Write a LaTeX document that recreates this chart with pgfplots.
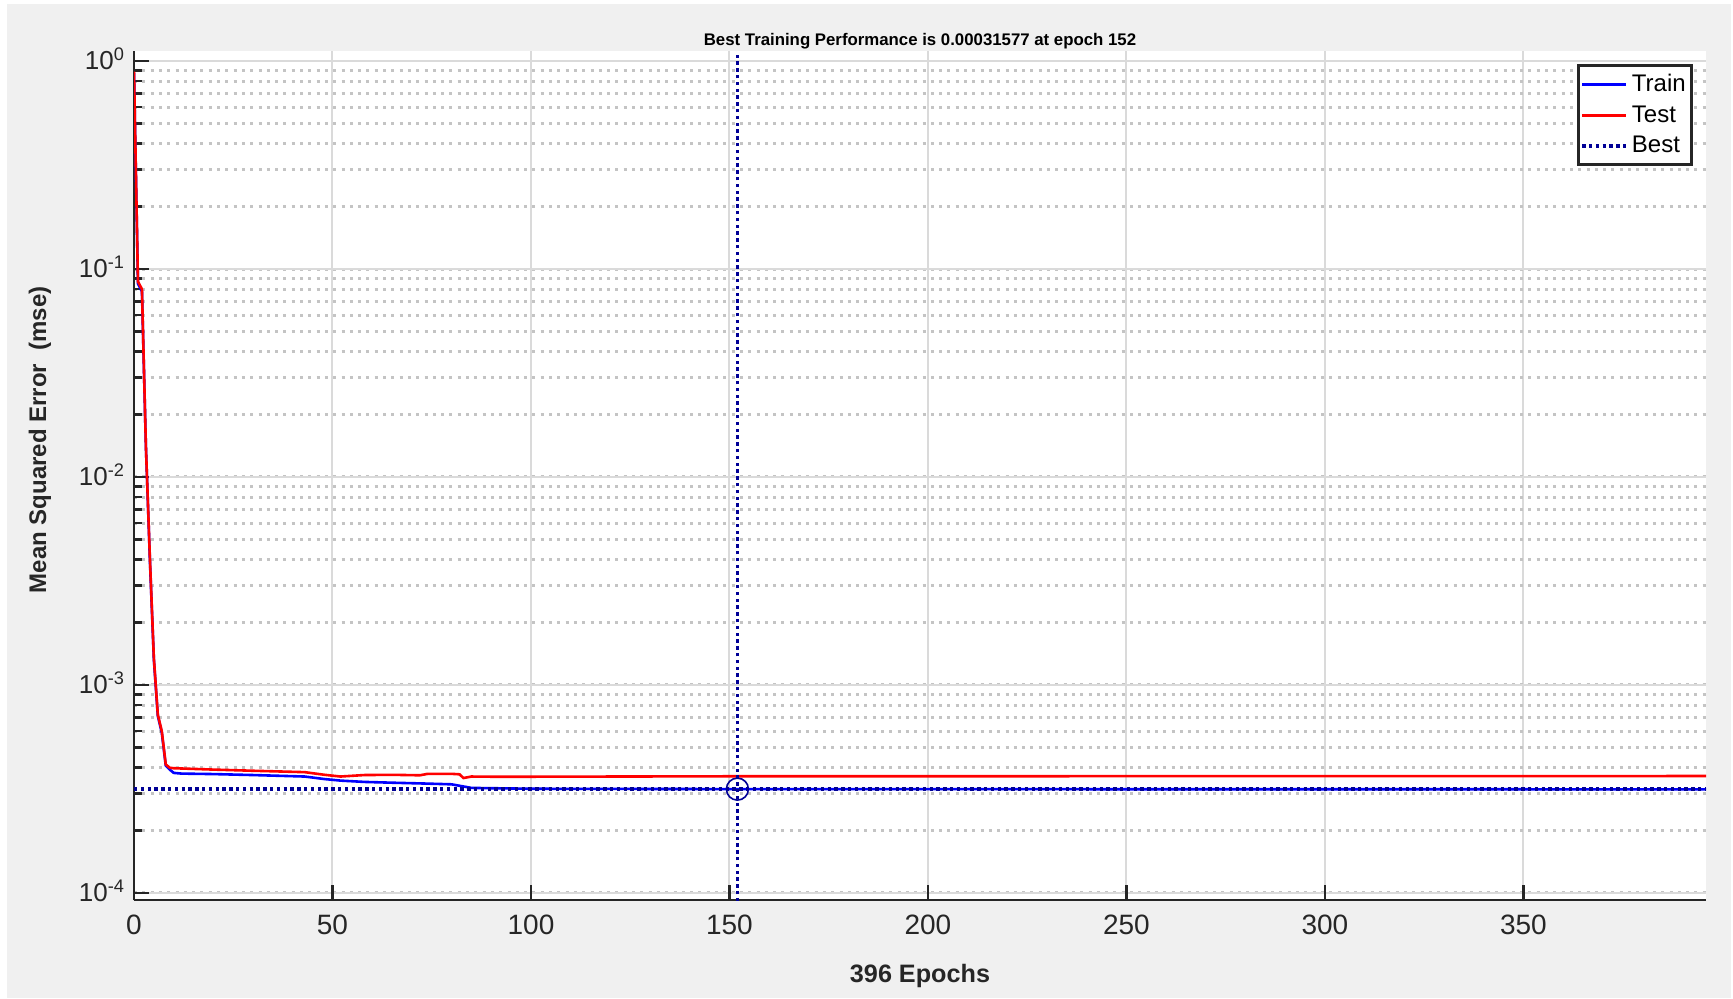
\documentclass[border=0pt]{standalone}
\usepackage{fontspec}
\setmainfont{Liberation Sans}
\usepackage{pgfplots}
\pgfplotsset{compat=1.18}

\definecolor{figbg}{RGB}{240,240,240}
\definecolor{txt}{RGB}{38,38,38}
\definecolor{gridc}{RGB}{218,218,218}
\definecolor{mgridc}{RGB}{196,196,196}
\definecolor{trainc}{RGB}{0,0,255}
\definecolor{testc}{RGB}{255,0,0}
\definecolor{bestc}{RGB}{0,0,150}

\pgfplotstableread{
epoch mse
0 0.875
1 0.085
2 0.078
3 0.014
4 0.0040
5 0.00133
6 0.00071
7 0.00059
8 0.00041
9 0.000392
10 0.000378
12 0.000375
20 0.000373
30 0.000369
43 0.000363
48 0.000353
52 0.000347
58 0.000342
65 0.000339
73 0.000336
80 0.000333
85 0.000320
100 0.000317
152 0.00031577
396 0.000315
}\train

\pgfplotstableread{
epoch mse
0 0.89
1 0.087
2 0.080
3 0.014
4 0.0041
5 0.00135
6 0.00072
7 0.00060
8 0.000415
9 0.000400
10 0.000398
20 0.000392
30 0.000387
43 0.000381
48 0.000370
52 0.000363
58 0.000369
65 0.000370
72 0.000368
74 0.000374
80 0.000374
82 0.000372
83 0.000357
85 0.000363
92 0.000362
150 0.000364
396 0.000365
}\test

\begin{document}
\begin{tikzpicture}
\useasboundingbox (0,0) rectangle (866.5pt,499pt);
\fill[figbg] (3.5pt,0pt) rectangle (865.5pt,497pt);
\begin{axis}[
    at={(67pt,49pt)}, anchor=south west,
    scale only axis,
    width=786pt, height=424.5pt,
    ymode=log,
    xmin=0, xmax=396,
    ymin=9.25e-5, ymax=1.117,
    axis background/.style={fill=white},
    axis x line=bottom, axis y line=left,
    axis line style={-, line width=1.3pt, color=txt},
    xtick={0,50,...,350},
    minor x tick num=0,
    ytick={1e-4,1e-3,1e-2,1e-1,1},
    yticklabels={10\textsuperscript{-4},10\textsuperscript{-3},10\textsuperscript{-2},10\textsuperscript{-1},10\textsuperscript{0}},
    major tick length=7.5pt, minor tick length=4pt,
    every tick/.style={line width=1.3pt, color=txt},
    tick align=inside,
    /pgf/number format/assume math mode=true,
    x tick label style={font=\fontsize{14}{16}\selectfont, color=txt, yshift=-4pt},
    y tick label style={font=\fontsize{13}{15}\selectfont, color=txt, xshift=-1pt, yshift=1pt},
    xmajorgrids=true, ymajorgrids=true, yminorgrids=true,
    major grid style={color=gridc, line width=1pt},
    minor grid style={color=mgridc, line width=1.5pt, dash pattern=on 1.5pt off 2.65pt},
    title={Best Training Performance is 0.00031577 at epoch 152},
    title style={font=\bfseries\fontsize{8.4}{9}\selectfont, color=black,
        at={(axis description cs:0.5,0.998)}, anchor=center, yshift=0pt},
    xlabel={396 Epochs},
    xlabel style={font=\bfseries\fontsize{12.6}{14}\selectfont, color=txt,
        at={(axis description cs:0.5,-0.086)}, anchor=center, yshift=-1.5pt},
    ylabel={Mean Squared Error\ \ (mse)},
    ylabel style={font=\bfseries\fontsize{12}{14}\selectfont, color=txt,
        at={(axis description cs:-0.0598,0.542)}, anchor=center, rotate=0},
    legend image code/.code={\draw[#1] (0pt,0pt) -- (22pt,0pt);},
    legend style={at={(rel axis cs:1,1)}, xshift=-6.5pt, yshift=-6.5pt,
        anchor=north east, draw=txt, line width=1.3pt, fill=white,
        font=\fontsize{12}{14}\selectfont, inner xsep=1pt, inner ysep=2.5pt,
        row sep=1.5pt},
    legend cell align=left,
    clip=true,
]
\addplot[color=trainc, line width=1.3pt] table[x=epoch, y=mse] {\train};
\addlegendentry{Train}
\addplot[color=testc, line width=1.3pt] table[x=epoch, y=mse] {\test};
\addlegendentry{Test}
\addplot[color=bestc, line width=1.7pt, dash pattern=on 1.7pt off 1.7pt] coordinates {(0,0.00031577) (396,0.00031577)};
\addlegendentry{Best}
\addplot[color=bestc, line width=1.7pt, dash pattern=on 1.7pt off 1.7pt, forget plot] coordinates {(152,5e-5) (152,2)};
\addplot[color=bestc, only marks, mark=o, mark size=5.5pt, line width=0.8pt, forget plot] coordinates {(152,0.00031577)};
\end{axis}
\end{tikzpicture}
\end{document}
